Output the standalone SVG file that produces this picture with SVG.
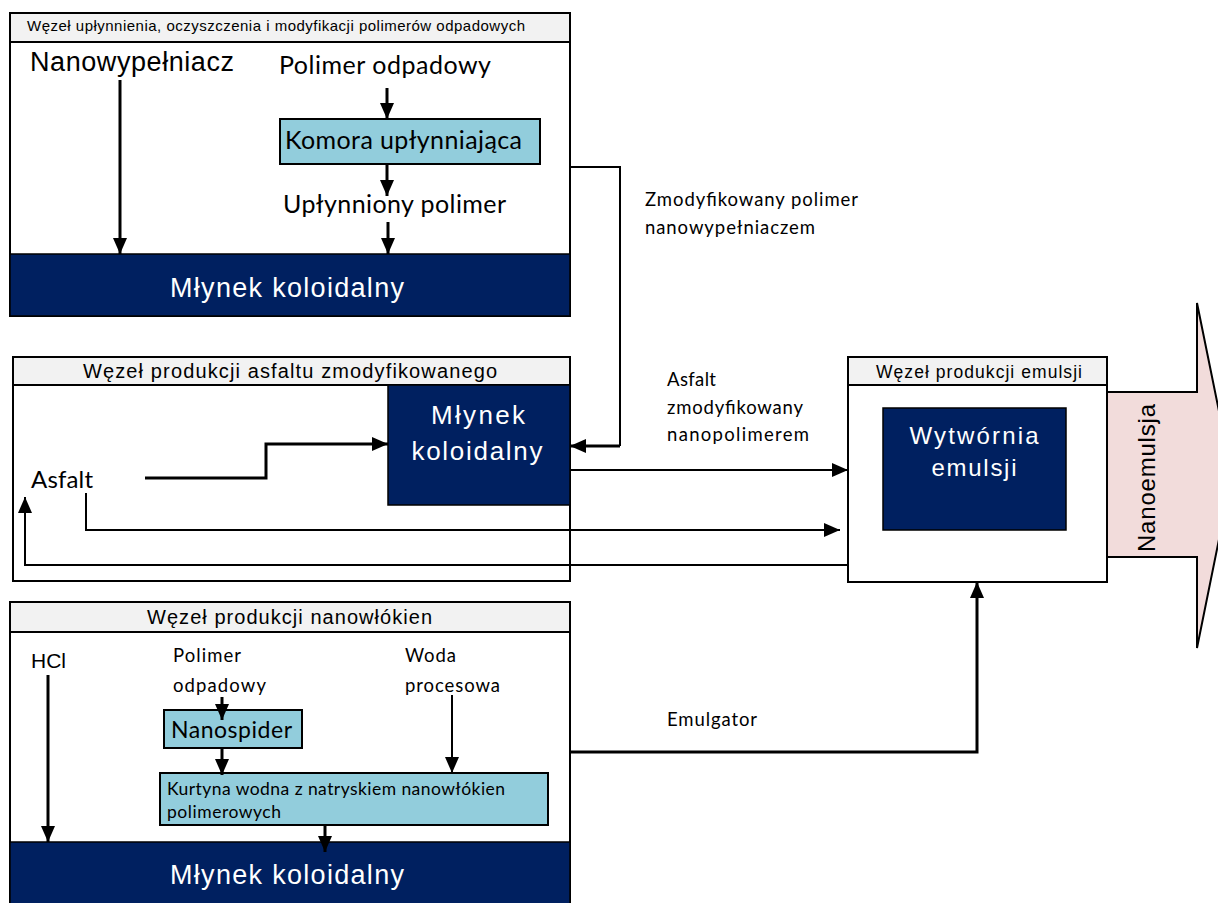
<svg xmlns="http://www.w3.org/2000/svg" width="1218" height="903" viewBox="0 0 1218 903">
<style>
.box{fill:#fff;stroke:#000;stroke-width:2}
.hdr{fill:#f2f2f2;stroke:#000;stroke-width:2}
.dark{fill:#002060;stroke:#000;stroke-width:1.5}
.cyan{fill:#92cddc;stroke:#000;stroke-width:2}
.a{font-family:"Liberation Sans",Arial,sans-serif;fill:#000}
.c{font-family:Lato,"Open Sans",sans-serif;fill:#000}
.w{font-family:"Liberation Sans",Arial,sans-serif;fill:#fff}
.ln{fill:none;stroke:#000;stroke-width:2}
.tk{fill:none;stroke:#000;stroke-width:3}
</style>
<defs>
<marker id="ah" markerUnits="userSpaceOnUse" markerWidth="16" markerHeight="14" refX="16" refY="7" orient="auto"><path d="M0,0 L16,7 L0,14 z" fill="#000"/></marker>
</defs>

<g id="node-upl">
<rect class="box" x="10" y="13" width="560" height="303"/>
<rect class="hdr" x="10" y="13" width="560" height="29"/>
<text class="a" x="27" y="31" font-size="15" textLength="498">Węzeł upłynnienia, oczyszczenia i modyfikacji polimerów odpadowych</text>
<text class="a" x="30" y="71" font-size="27" textLength="204">Nanowypełniacz</text>
<text class="c" x="279" y="74" font-size="25" textLength="212">Polimer odpadowy</text>
<rect class="cyan" x="280" y="119" width="260" height="45"/>
<text class="c" x="285" y="149" font-size="25" textLength="237">Komora upłynniająca</text>
<text class="c" x="283" y="213" font-size="25" textLength="223">Upłynniony polimer</text>
<rect class="dark" x="10" y="254" width="560" height="62"/>
<text class="w" x="287" y="297" font-size="27" text-anchor="middle" textLength="234">Młynek koloidalny</text>
</g>

<g id="node-asfalt">
<rect class="box" x="13" y="357" width="557" height="224"/>
<rect class="hdr" x="13" y="357" width="557" height="28"/>
<text class="a" x="83" y="378" font-size="20" textLength="414">Węzeł produkcji asfaltu zmodyfikowanego</text>
<rect class="dark" x="388" y="385" width="182" height="120"/>
<text class="w" x="478" y="424" font-size="26" text-anchor="middle" textLength="94">Młynek</text>
<text class="w" x="477" y="460" font-size="26" text-anchor="middle" textLength="131">koloidalny</text>
<text class="c" x="31" y="488" font-size="24" textLength="62">Asfalt</text>
</g>

<g id="node-emulsja">
<rect class="box" x="848" y="357" width="259" height="225"/>
<rect class="hdr" x="848" y="357" width="259" height="28"/>
<text class="a" x="876" y="378" font-size="17.5" textLength="206">Węzeł produkcji emulsji</text>
<rect class="dark" x="883" y="408" width="183" height="122"/>
<text class="w" x="974" y="444" font-size="24" text-anchor="middle" textLength="129">Wytwórnia</text>
<text class="w" x="974" y="476" font-size="24" text-anchor="middle" textLength="85">emulsji</text>
</g>

<g id="node-nanoemulsja">
<path d="M1107,392 L1197,392 L1197,303 L1232,475 L1197,648 L1197,557 L1107,557 Z" fill="#f2dcdb" stroke="#000" stroke-width="2"/>
<text class="a" transform="translate(1155,478) rotate(-90)" font-size="24" text-anchor="middle" textLength="148">Nanoemulsja</text>
</g>

<g id="node-nanowlokna">
<rect class="box" x="10" y="602" width="560" height="310"/>
<rect class="hdr" x="10" y="602" width="560" height="30"/>
<text class="a" x="147" y="624" font-size="20" textLength="285">Węzeł produkcji nanowłókien</text>
<text class="a" x="31" y="668" font-size="21" textLength="35">HCl</text>
<text class="c" x="173" y="662" font-size="18.5" textLength="68">Polimer</text>
<text class="c" x="173" y="692" font-size="18.5" textLength="93">odpadowy</text>
<text class="c" x="405" y="662" font-size="18.5" textLength="51">Woda</text>
<text class="c" x="405" y="692" font-size="18.5" textLength="95">procesowa</text>
<rect class="cyan" x="164" y="710" width="138" height="38"/>
<text class="c" x="171" y="738" font-size="23" textLength="121">Nanospider</text>
<rect class="cyan" x="160" y="773" width="388" height="52"/>
<text class="c" x="167" y="795" font-size="17.5" textLength="338">Kurtyna wodna z natryskiem nanowłókien</text>
<text class="c" x="167" y="818" font-size="17.5" textLength="114">polimerowych</text>
<rect class="dark" x="10" y="842" width="560" height="70"/>
<text class="w" x="287" y="884" font-size="27" text-anchor="middle" textLength="234">Młynek koloidalny</text>
</g>

<g id="connectors">
<line class="tk" x1="120" y1="80" x2="120" y2="254" marker-end="url(#ah)"/>
<line class="tk" x1="387" y1="88" x2="387" y2="119" marker-end="url(#ah)"/>
<line class="tk" x1="387" y1="164" x2="387" y2="196" marker-end="url(#ah)"/>
<line class="tk" x1="388" y1="222" x2="388" y2="254" marker-end="url(#ah)"/>
<polyline class="ln" points="570,167 620,167 620,446"/>
<polyline class="tk" points="620,446 570,446" marker-end="url(#ah)"/>
<polyline class="tk" points="145,478 266,478 266,444 388,444" marker-end="url(#ah)"/>
<line class="ln" x1="570" y1="470" x2="848" y2="470" marker-end="url(#ah)"/>
<polyline class="ln" points="86,493 86,530 840,530" marker-end="url(#ah)"/>
<polyline class="ln" points="848,565 25,565 25,497" marker-end="url(#ah)"/>
<polyline class="tk" points="570,752 977,752 977,582" marker-end="url(#ah)"/>
<line class="tk" x1="48" y1="675" x2="48" y2="842" marker-end="url(#ah)"/>
<line class="tk" x1="222" y1="697" x2="222" y2="720" marker-end="url(#ah)"/>
<line class="tk" x1="222" y1="748" x2="222" y2="775" marker-end="url(#ah)"/>
<line class="ln" x1="452" y1="695" x2="452" y2="773" marker-end="url(#ah)"/>
<line class="tk" x1="325" y1="825" x2="325" y2="852" marker-end="url(#ah)"/>
<text class="c" x="645" y="206" font-size="18.5" textLength="213">Zmodyfikowany polimer</text>
<text class="c" x="645" y="234" font-size="18.5" textLength="170">nanowypełniaczem</text>
<text class="c" x="667" y="386" font-size="18.5" textLength="49">Asfalt</text>
<text class="c" x="667" y="414" font-size="18.5" textLength="136">zmodyfikowany</text>
<text class="c" x="667" y="441" font-size="18.5" textLength="142">nanopolimerem</text>
<text class="c" x="667" y="726" font-size="18.5" textLength="90">Emulgator</text>
</g>
</svg>
